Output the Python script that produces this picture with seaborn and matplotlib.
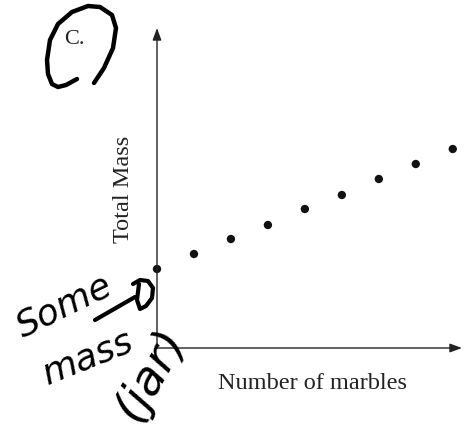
import matplotlib
matplotlib.use("Agg")
import matplotlib.pyplot as plt
import seaborn as sns
import pandas as pd

# Marbles added to a jar and the total mass measured each time
marbles = [0, 1, 2, 3, 4, 5, 6, 7, 8]
total_mass = [79, 94, 109, 123, 139, 153, 169, 184, 199]

x_label = "Number of marbles"
y_label = "Total Mass"
panel_label = "C."
note_lines = ["Some", "mass", "(jar)"]

sns.set_theme(style="white")
plt.rcParams["font.family"] = ["Liberation Serif", "DejaVu Serif"]

W, H = 465, 429
fig = plt.figure(figsize=(W / 100, H / 100), dpi=100)


def fx(px):
    return px / W


def fy(py):
    return 1 - py / H


left, right, top, bottom = 157, 462, 28, 348
ax = fig.add_axes([fx(left), fy(bottom), fx(right - left), fy(top) - fy(bottom)])

df = pd.DataFrame({"marbles": marbles, "mass": total_mass})
sns.scatterplot(data=df, x="marbles", y="mass", ax=ax, color="#111111",
                s=36, edgecolor="none", clip_on=False, legend=False)

ax.set_xlim(0, 8.25)
ax.set_ylim(0, 320)
ax.set_xticks([])
ax.set_yticks([])
for sp in ax.spines.values():
    sp.set_visible(False)

# Axis arrows
arrow = dict(arrowstyle="-|>,head_length=0.6,head_width=0.22", color="#222222",
             lw=1.0, shrinkA=0, shrinkB=0)
ax.annotate("", xy=(0, 1), xytext=(0, 0), xycoords="axes fraction",
            arrowprops=arrow, annotation_clip=False)
ax.annotate("", xy=(1, 0), xytext=(0, 0), xycoords="axes fraction",
            arrowprops=arrow, annotation_clip=False)

ax.set_xlabel(x_label, fontsize=17.5, color="#222222")
ax.set_ylabel(y_label, fontsize=17.5, color="#222222")
ax.xaxis.set_label_coords((312 - left) / (right - left), -(373 - bottom) / (bottom - top))
ax.yaxis.set_label_coords(-(157 - 134) / (right - left), 0.495)
ax.xaxis.label.set_va("top")

fig.text(fx(74), fy(40), panel_label, fontsize=16, ha="center", va="center",
         color="#222222")

# Hand-drawn marks: loop around the panel label
loop_x = [94, 104, 113, 116, 112, 100, 88, 72, 58, 50, 47, 48, 52, 58, 66, 77]
loop_y = [83, 68, 48, 28, 15, 7, 6, 12, 24, 40, 60, 74, 84, 87, 85, 79]
fig.add_artist(plt.Line2D([fx(v) for v in loop_x], [fy(v) for v in loop_y],
                          transform=fig.transFigure, color="black", lw=3.2,
                          solid_capstyle="round", solid_joinstyle="round"))

hand = dict(family=["DejaVu Sans"], color="black", ha="center", va="center",
            fontstyle="italic")
fig.text(fx(64), fy(306), note_lines[0], rotation=26, fontsize=26, **hand)
fig.text(fx(88), fy(357), note_lines[1], rotation=22, fontsize=26, **hand)
fig.text(fx(150), fy(374), note_lines[2], rotation=60, fontsize=34, **hand)

# Arrow from the note toward the starting point
fig.add_artist(plt.Line2D([fx(95), fx(135)], [fy(320), fy(297)],
                          transform=fig.transFigure, color="black", lw=3.0,
                          solid_capstyle="round"))
d_x = [133, 140, 148, 153, 152, 146, 140, 137, 139]
d_y = [284, 280, 281, 288, 298, 306, 309, 300, 284]
fig.add_artist(plt.Line2D([fx(v) for v in d_x], [fy(v) for v in d_y],
                          transform=fig.transFigure, color="black", lw=3.0,
                          solid_capstyle="round", solid_joinstyle="round"))

fig.savefig("out.png", dpi=100, facecolor="white")
